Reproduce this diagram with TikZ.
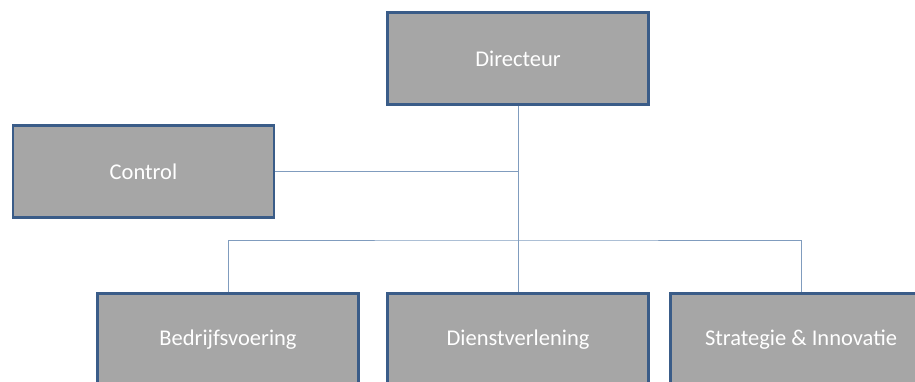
\documentclass[tikz,border=0pt]{standalone}
\usepackage{fontspec}
\setmainfont{Carlito}
\usepackage{tikz}
\usetikzlibrary{positioning,calc}
\definecolor{boxgray}{RGB}{166,166,166}
\definecolor{boxline}{RGB}{58,92,136}
\definecolor{linkblue}{RGB}{128,156,190}

\begin{document}
\begin{tikzpicture}[x=1pt, y=1pt, line width=1pt]
   \clip (0,0) rectangle (915,381);
   \begin{scope}[every node/.style={rectangle,draw=boxline,line width=2.2pt,fill=boxgray,
      text=white,font=\fontsize{22.5}{26}\selectfont,minimum width=261pt,minimum height=92pt,inner sep=0pt}]
    \node (dir) at (518,322.5) {Directeur};
    \node (ctrl) at (143.5,209.5) {Control};
    \node (bedr) at (228,41.5) {Bedrijfsvoering};
    \node (dienst) at (518,41.5) {Dienstverlening};
    \node (strat) at (801,41.5) {Strategie \& Innovatie};
   \end{scope}
   \coordinate (split) at (518,141);
   \begin{scope}[draw=linkblue, line width=0.9pt]
    \draw (dir.south) -- (dienst.north);
    \draw (ctrl.east) -- (dir.south |- ctrl.east);
    \draw (bedr.north) |- (split) -| (strat.north);
   \end{scope}
\end{tikzpicture}
\end{document}
